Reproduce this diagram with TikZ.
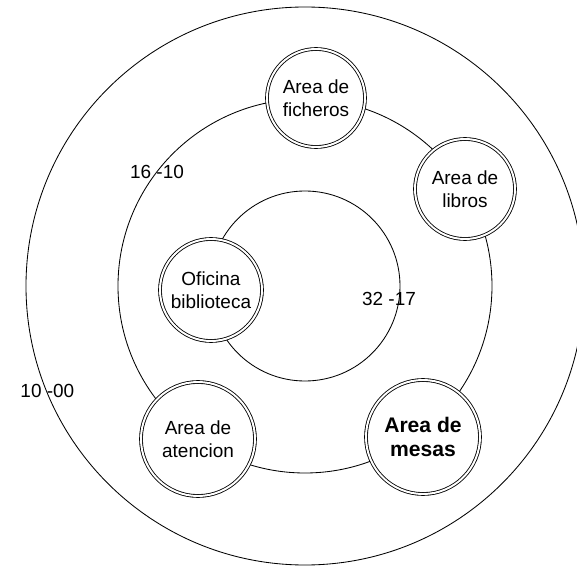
\documentclass[tikz,border=0pt]{standalone}
\usepackage{fontspec}
\setmainfont{Liberation Sans}

\begin{document}
\begin{tikzpicture}[
    font=\fontsize{13.5}{16.3}\selectfont, line width=0.6pt,
    area/.style={circle, draw, double, double distance=1.4pt, fill=white, align=center, inner sep=0pt},
    lbl/.style={inner sep=1pt}]
    \useasboundingbox (-7.625,-7.025) rectangle (6.8,7.15);
    % concentric rings
    \foreach \r in {6.975,4.675,2.375} {\draw (0,0) circle (\r);}
    % areas
    \node[area, minimum size=2.45cm] (fich) at (0.275,4.7) {Area de\\ficheros};
    \node[area, minimum size=2.5cm] (libros) at (4.0,2.425) {Area de\\libros};
    \node[area, minimum size=2.55cm] (ofic) at (-2.35,-0.1) {Oficina\\biblioteca};
    \node[area, minimum size=2.85cm] (atenc) at (-2.675,-3.825) {Area de\\atencion};
    \node[area, minimum size=2.85cm, font=\fontsize{15}{17.5}\selectfont\bfseries] (mesas) at (2.95,-3.775) {Area de\\mesas};
    % ring labels
    \node[lbl] (r1) at (-3.7,2.85) {16 -10};
    \node[lbl] (r2) at (2.1,-0.325) {32 -17};
    \node[lbl] (r3) at (-6.44,-2.625) {10 -00};
\end{tikzpicture}
\end{document}
